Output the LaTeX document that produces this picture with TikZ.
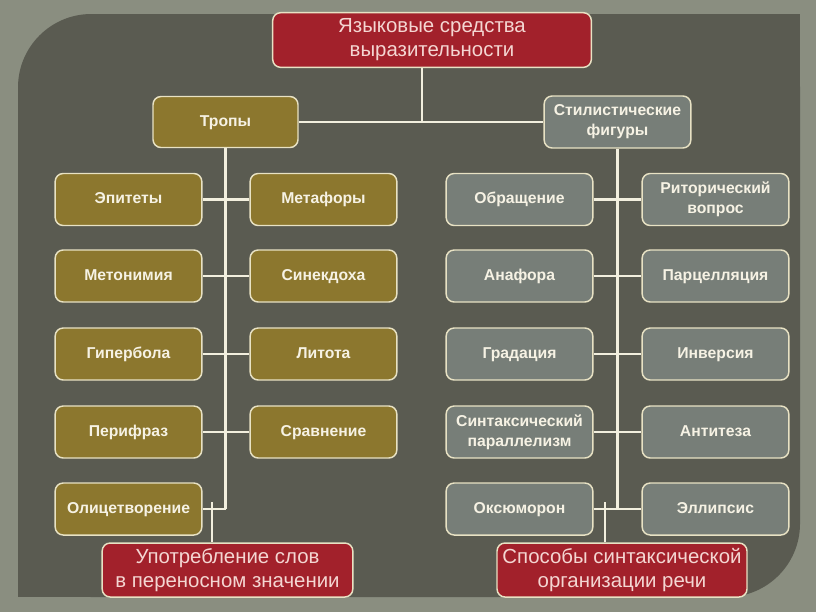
\documentclass[tikz,border=0pt]{standalone}
\usepackage{fontspec}
\setmainfont{Liberation Sans}
\pgfdeclarelayer{bg}
\pgfdeclarelayer{lines}
\pgfsetlayers{bg,lines,main}
\definecolor{outerc}{RGB}{138,142,128}
\definecolor{panelc}{RGB}{90,91,81}
\definecolor{olivec}{RGB}{140,119,46}
\definecolor{grayc}{RGB}{119,126,120}
\definecolor{redc}{RGB}{162,33,43}
\definecolor{boxedge}{RGB}{232,226,196}
\definecolor{boxtext}{RGB}{246,242,228}
\definecolor{redtext}{RGB}{244,214,210}
\definecolor{linec}{RGB}{242,239,222}
\begin{document}
\begin{tikzpicture}[x=0.75pt,y=-0.75pt]
\tikzset{
  box/.style={draw=boxedge, line width=1.1pt, rounded corners=6pt,
    minimum width=110pt, minimum height=39pt, inner sep=1pt, align=center,
    font=\bfseries\fontsize{11.8}{15}\selectfont, text=boxtext},
  oneline/.style={text height=8.6pt, text depth=2.6pt},
  olive/.style={box, oneline, fill=olivec},
  grayb/.style={box, oneline, fill=grayc},
  graym/.style={box, fill=grayc},
  redb/.style={draw=boxedge, line width=1.1pt, rounded corners=6pt, fill=redc,
    text=redtext, align=center, inner sep=1pt,
    font=\fontsize{15.3}{18}\selectfont},
  link/.style={draw=linec, line width=1.9pt},
}
% background and panel
\begin{pgfonlayer}{bg}
\fill[outerc] (0,0) rectangle (816,612);
\fill[panelc, rounded corners=55pt] (18,14) rectangle (800,597);
\fill[panelc] (700,14) rectangle (800,114);
\fill[panelc] (18,497) rectangle (118,597);
\end{pgfonlayer}

% header nodes
\node[redb, minimum width=239pt, minimum height=41pt] (top) at (432,40) {Языковые средства\\выразительности};
\node[olive, minimum width=108.75pt, minimum height=38.25pt] (tropy) at (225.5,122) {Тропы};
\node[graym] (stil) at (617.5,122) {Стилистические\\фигуры};

% left columns
\node[olive] (epi)  at (128.5,199.5) {Эпитеты};
\node[olive] (meta) at (323.5,199.5) {Метафоры};
\node[olive] (meto) at (128.5,276) {Метонимия};
\node[olive] (sine) at (323.5,276) {Синекдоха};
\node[olive] (gip)  at (128.5,354) {Гипербола};
\node[olive] (lit)  at (323.5,354) {Литота};
\node[olive] (per)  at (128.5,432) {Перифраз};
\node[olive] (srav) at (323.5,432) {Сравнение};
\node[olive] (oli)  at (128.5,509) {Олицетворение};

% right columns
\node[grayb] (obr)  at (519.5,199.5) {Обращение};
\node[graym] (rit)  at (715.5,199.5) {Риторический\\вопрос};
\node[grayb] (ana)  at (519.5,276) {Анафора};
\node[grayb] (parc) at (715.5,276) {Парцелляция};
\node[grayb] (grad) at (519.5,354) {Градация};
\node[grayb] (inv)  at (715.5,354) {Инверсия};
\node[graym] (sin)  at (519.5,432) {Синтаксический\\параллелизм};
\node[grayb] (ant)  at (715.5,432) {Антитеза};
\node[grayb] (oks)  at (519.5,509) {Оксюморон};
\node[grayb] (ell)  at (715.5,509) {Эллипсис};

% bottom red nodes
\node[redb, minimum width=188pt, minimum height=40.5pt] (upo) at (227.5,570) {Употребление слов\\в переносном значении};
\node[redb, minimum width=187.5pt, minimum height=40.5pt] (spo) at (622,570) {Способы синтаксической\\организации речи};

\coordinate (topdrop) at (422,68);
\coordinate (lcross) at (212,502);
\coordinate (rcross) at (605,502);

\begin{pgfonlayer}{lines}
\draw[link] (topdrop) -- (topdrop |- tropy.east);
\draw[link] (tropy.east) -- (stil.west);
\draw[link] (tropy.south) -- (tropy.south |- oli.east);
\draw[link] (stil.south) -- (stil.south |- oks.east);
\draw[link] (epi.east) -- (meta.west);
\draw[link] (meto.east) -- (sine.west);
\draw[link] (gip.east) -- (lit.west);
\draw[link] (per.east) -- (srav.west);
\draw[link] (oli.east) -- (tropy.south |- oli.east);
\draw[link] (obr.east) -- (rit.west);
\draw[link] (ana.east) -- (parc.west);
\draw[link] (grad.east) -- (inv.west);
\draw[link] (sin.east) -- (ant.west);
\draw[link] (oks.east) -- (ell.west);
\draw[link] (lcross) -- (lcross |- upo.north);
\draw[link] (rcross) -- (rcross |- spo.north);
\end{pgfonlayer}
\end{tikzpicture}
\end{document}
